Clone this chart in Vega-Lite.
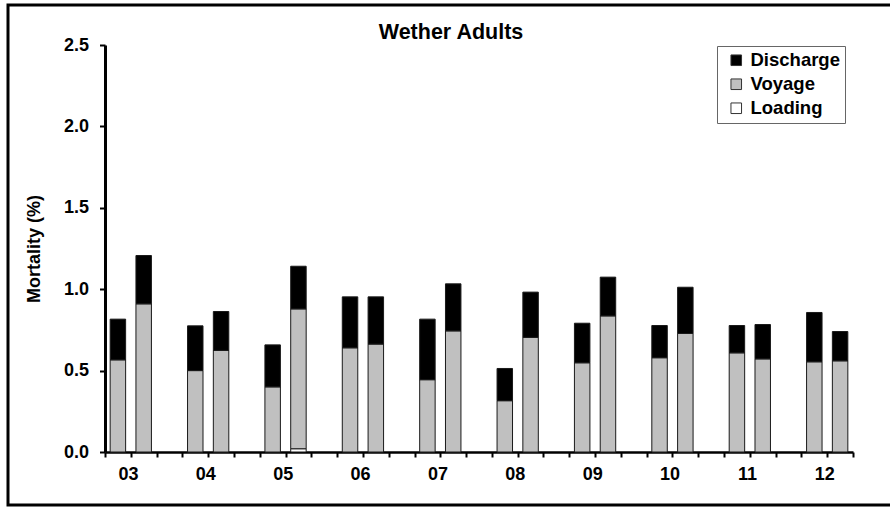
{
  "$schema": "https://vega.github.io/schema/vega-lite/v6.json",
  "autosize": "none",
  "width": 886,
  "height": 500,
  "padding": {"left": 8, "top": 5, "right": -4, "bottom": 3},
  "background": "white",
  "title": {
    "text": "Wether Adults",
    "frame": "group",
    "anchor": "middle",
    "offset": -38,
    "fontSize": 21.5,
    "font": "Liberation Sans",
    "fontWeight": "bold",
    "color": "black"
  },
  "config": {
    "view": {"stroke": "black", "strokeWidth": 3},
    "font": "Liberation Sans",
    "axis": {
      "labelFont": "Liberation Sans",
      "labelFontWeight": "bold",
      "labelFontSize": 18,
      "labelColor": "black",
      "titleFont": "Liberation Sans",
      "titleFontWeight": "bold",
      "titleFontSize": 18,
      "titleColor": "black",
      "domainColor": "black",
      "tickColor": "black",
      "grid": false
    }
  },
  "data": {
    "values": [
      {"year": "03", "ship": "1", "Loading": 0, "Voyage": 0.566, "Discharge": 0.25},
      {"year": "03", "ship": "2", "Loading": 0, "Voyage": 0.91, "Discharge": 0.297},
      {"year": "04", "ship": "1", "Loading": 0, "Voyage": 0.5, "Discharge": 0.275},
      {"year": "04", "ship": "2", "Loading": 0, "Voyage": 0.624, "Discharge": 0.239},
      {"year": "05", "ship": "1", "Loading": 0, "Voyage": 0.4, "Discharge": 0.258},
      {"year": "05", "ship": "2", "Loading": 0.02, "Voyage": 0.859, "Discharge": 0.262},
      {"year": "06", "ship": "1", "Loading": 0, "Voyage": 0.64, "Discharge": 0.313},
      {"year": "06", "ship": "2", "Loading": 0, "Voyage": 0.663, "Discharge": 0.29},
      {"year": "07", "ship": "1", "Loading": 0, "Voyage": 0.444, "Discharge": 0.372},
      {"year": "07", "ship": "2", "Loading": 0, "Voyage": 0.744, "Discharge": 0.289},
      {"year": "08", "ship": "1", "Loading": 0, "Voyage": 0.315, "Discharge": 0.198},
      {"year": "08", "ship": "2", "Loading": 0, "Voyage": 0.704, "Discharge": 0.278},
      {"year": "09", "ship": "1", "Loading": 0, "Voyage": 0.548, "Discharge": 0.243},
      {"year": "09", "ship": "2", "Loading": 0, "Voyage": 0.836, "Discharge": 0.238},
      {"year": "10", "ship": "1", "Loading": 0, "Voyage": 0.579, "Discharge": 0.198},
      {"year": "10", "ship": "2", "Loading": 0, "Voyage": 0.728, "Discharge": 0.284},
      {"year": "11", "ship": "1", "Loading": 0, "Voyage": 0.609, "Discharge": 0.168},
      {"year": "11", "ship": "2", "Loading": 0, "Voyage": 0.572, "Discharge": 0.211},
      {"year": "12", "ship": "1", "Loading": 0, "Voyage": 0.554, "Discharge": 0.303},
      {"year": "12", "ship": "2", "Loading": 0, "Voyage": 0.56, "Discharge": 0.18}
    ]
  },
  "transform": [
    {"calculate": "datum.year + '-' + datum.ship", "as": "slot"},
    {"fold": ["Loading", "Voyage", "Discharge"], "as": ["stage", "pct"]},
    {"calculate": "indexof(['Loading', 'Voyage', 'Discharge'], datum.stage)", "as": "stackOrder"}
  ],
  "mark": {"type": "bar", "width": {"band": 0.6}, "stroke": "#1a1a1a", "strokeWidth": 1},
  "encoding": {
    "x": {
      "field": "slot",
      "type": "nominal",
      "scale": {
        "domain": ["03-1", "03-2", "03-g", "04-1", "04-2", "04-g", "05-1", "05-2", "05-g",
                   "06-1", "06-2", "06-g", "07-1", "07-2", "07-g", "08-1", "08-2", "08-g",
                   "09-1", "09-2", "09-g", "10-1", "10-2", "10-g", "11-1", "11-2", "11-g",
                   "12-1", "12-2"],
        "range": [97, 845],
        "paddingInner": 0,
        "paddingOuter": 0
      },
      "axis": {
        "title": null,
        "offset": -53,
        "tickBand": "extent",
        "labelExpr": "(isString(datum.value) && indexof(datum.value, '-1') > 0) ? substring(datum.value, 0, 2) : ''",
        "labelOffset": 10,
        "labelAngle": 0,
        "labelOverlap": false,
        "labelPadding": 8,
        "tickSize": 5,
        "tickWidth": 2,
        "domainWidth": 2.5
      }
    },
    "y": {
      "field": "pct",
      "type": "quantitative",
      "stack": "zero",
      "scale": {"domain": [0, 2.5], "range": [{"expr": "447"}, {"expr": "40"}], "nice": false},
      "axis": {
        "title": "Mortality (%)",
        "offset": -97,
        "values": [0, 0.5, 1, 1.5, 2, 2.5],
        "format": ".1f",
        "tickSize": 5.5,
        "tickWidth": 2,
        "domainWidth": 3,
        "labelPadding": 11,
        "titlePadding": 20
      }
    },
    "fill": {
      "field": "stage",
      "type": "nominal",
      "sort": ["Discharge", "Voyage", "Loading"],
      "scale": {"domain": ["Discharge", "Voyage", "Loading"], "range": ["#000000", "#c0c0c0", "#ffffff"]},
      "legend": {
        "title": null,
        "orient": "none",
        "legendX": 709,
        "legendY": 41,
        "symbolType": "square",
        "symbolSize": 112,
        "symbolOffset": 5,
        "symbolStrokeColor": "#333333",
        "symbolStrokeWidth": 1,
        "labelFont": "Liberation Sans",
        "labelFontWeight": "bold",
        "labelFontSize": 18.5,
        "labelColor": "black",
        "labelOffset": 5,
        "rowPadding": 5,
        "padding": 5,
        "strokeColor": "#666666"
      }
    },
    "order": {"field": "stackOrder", "type": "quantitative"}
  }
}
